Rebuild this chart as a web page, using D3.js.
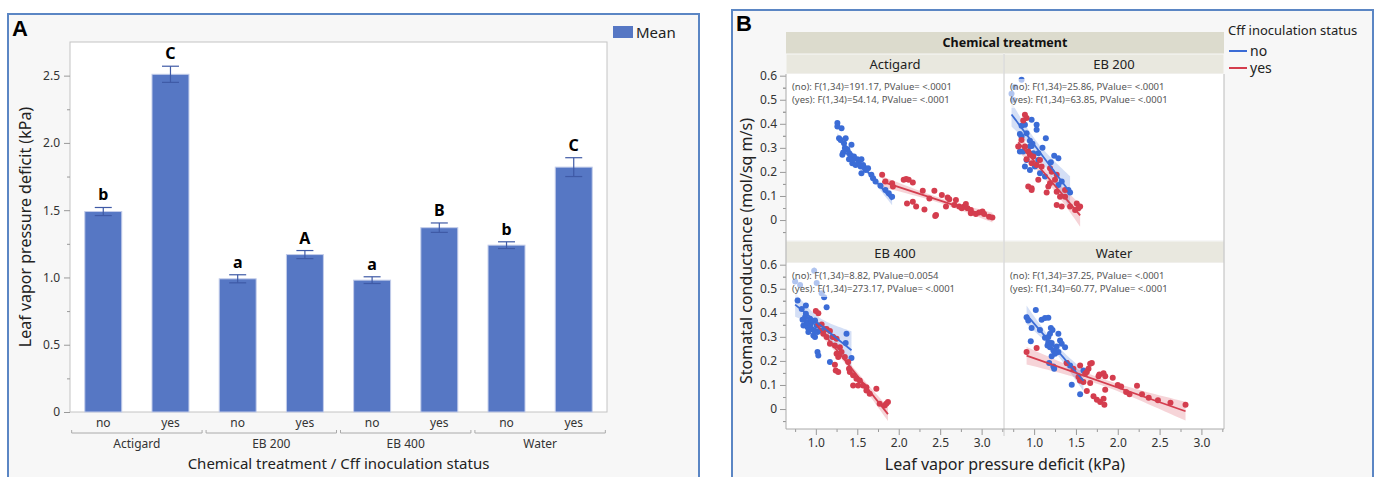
<!DOCTYPE html>
<html>
<head>
<meta charset="utf-8">
<script src="https://cdn.jsdelivr.net/npm/d3@7"></script>
<style>
body { margin: 0; background: #fff; }
svg text { font-family: "Noto Sans", sans-serif; }
</style>
</head>
<body>
<svg id="chart" width="1376" height="477"></svg>
<script>
// ---- panel A data
const treatments = ["Actigard", "EB 200", "EB 400", "Water"];
const inoculation = ["no", "yes"];
const meanVPD = [1.49, 2.51, 0.99, 1.17, 0.98, 1.37, 1.24, 1.82];
const errVPD = [0.03, 0.06, 0.03, 0.03, 0.025, 0.035, 0.025, 0.07];
const letters = ["b", "C", "a", "A", "a", "B", "b", "C"];
const vpdTicks = [0, 0.5, 1.0, 1.5, 2.0, 2.5];

// ---- panel B data: [leaf VPD, stomatal conductance]
const actigardNo = [[1.26,0.403],[1.26,0.389],[1.31,0.382],[1.28,0.340],[1.36,0.340],[1.43,0.313],[1.38,0.294],[1.33,0.281],[1.40,0.278],[1.42,0.264],[1.46,0.264],[1.50,0.253],[1.55,0.253],[1.40,0.253],[1.44,0.236],[1.48,0.229],[1.54,0.222],[1.58,0.219],[1.61,0.211],[1.60,0.208],[1.55,0.194],[1.67,0.188],[1.72,0.160],[1.78,0.142],[1.92,0.097],[1.30,0.333],[1.34,0.319],[1.35,0.299],[1.32,0.271],[1.44,0.250],[1.52,0.236],[1.57,0.229],[1.63,0.215],[1.69,0.174],[1.84,0.125],[1.88,0.111]];
const actigardYes = [[1.80,0.188],[1.92,0.153],[1.93,0.139],[2.06,0.167],[2.09,0.171],[2.12,0.167],[2.17,0.156],[2.29,0.122],[2.43,0.122],[2.52,0.104],[2.59,0.094],[2.61,0.086],[2.69,0.083],[2.37,0.090],[2.57,0.056],[2.73,0.056],[2.79,0.056],[2.81,0.067],[2.83,0.049],[2.76,0.049],[2.87,0.042],[2.87,0.028],[2.93,0.025],[3.01,0.035],[3.03,0.025],[3.09,0.014],[3.13,0.011],[2.10,0.069],[2.17,0.076],[2.21,0.056],[2.31,0.044],[2.45,0.021],[2.44,0.017],[1.84,0.160],[2.67,0.063],[2.97,0.031]];
const eb200No = [[0.85,0.392],[0.89,0.396],[0.97,0.417],[1.03,0.396],[1.03,0.375],[0.83,0.358],[0.91,0.361],[1.14,0.340],[0.95,0.306],[0.98,0.317],[0.83,0.285],[0.87,0.285],[0.99,0.278],[1.05,0.278],[1.24,0.267],[1.29,0.257],[0.91,0.250],[0.89,0.222],[0.95,0.208],[1.01,0.222],[1.07,0.194],[1.33,0.160],[1.29,0.146],[1.41,0.125],[1.43,0.114],[1.13,0.181],[0.97,0.308],[0.85,0.347],[0.85,0.583],[0.77,0.553],[0.73,0.525],[0.75,0.500],[1.10,0.300],[0.95,0.330],[1.20,0.240],[1.05,0.250]];
const eb200Yes = [[0.89,0.438],[0.91,0.424],[0.87,0.414],[0.85,0.333],[0.81,0.306],[0.89,0.306],[0.93,0.285],[0.95,0.271],[0.99,0.264],[0.91,0.253],[0.97,0.236],[1.03,0.229],[1.09,0.222],[1.07,0.250],[1.19,0.215],[1.21,0.201],[1.27,0.188],[1.25,0.167],[1.19,0.153],[1.17,0.139],[1.15,0.114],[1.05,0.167],[0.97,0.132],[0.93,0.139],[0.97,0.125],[1.27,0.118],[1.31,0.097],[1.37,0.097],[1.27,0.063],[1.33,0.056],[1.43,0.056],[1.51,0.069],[1.55,0.056],[1.49,0.042],[1.53,0.049],[1.37,0.125]];
const eb400No = [[0.75,0.530],[0.81,0.516],[0.98,0.575],[1.01,0.524],[1.07,0.481],[1.10,0.465],[0.78,0.451],[0.83,0.416],[0.88,0.430],[1.13,0.423],[0.87,0.382],[0.85,0.347],[0.90,0.340],[0.93,0.347],[0.95,0.333],[0.98,0.326],[0.91,0.320],[0.97,0.306],[1.02,0.320],[1.05,0.326],[0.89,0.361],[0.84,0.371],[0.88,0.396],[0.93,0.375],[0.99,0.368],[1.11,0.333],[1.37,0.313],[1.36,0.274],[1.43,0.212],[1.17,0.195],[1.02,0.237],[1.03,0.223],[1.01,0.347],[0.95,0.361],[0.99,0.299],[1.20,0.300]];
const eb400Yes = [[1.00,0.407],[1.03,0.398],[1.07,0.351],[1.13,0.333],[1.17,0.324],[1.21,0.299],[1.09,0.313],[1.13,0.299],[1.17,0.271],[1.23,0.264],[1.25,0.292],[1.29,0.257],[1.25,0.230],[1.27,0.216],[1.23,0.184],[1.24,0.160],[1.27,0.154],[1.31,0.237],[1.35,0.216],[1.39,0.195],[1.40,0.167],[1.41,0.154],[1.45,0.140],[1.49,0.126],[1.53,0.119],[1.45,0.098],[1.51,0.098],[1.57,0.098],[1.61,0.091],[1.61,0.077],[1.65,0.064],[1.73,0.084],[1.77,0.022],[1.83,0.015],[1.85,0.022],[1.87,0.029]];
const waterNo = [[1.02,0.412],[0.91,0.382],[0.93,0.368],[1.09,0.371],[1.13,0.378],[1.17,0.379],[0.97,0.337],[1.07,0.329],[1.20,0.337],[1.22,0.329],[1.19,0.313],[1.29,0.313],[0.96,0.282],[1.13,0.296],[1.17,0.299],[1.17,0.278],[1.21,0.274],[1.31,0.285],[1.33,0.271],[1.37,0.257],[1.27,0.260],[1.16,0.264],[1.19,0.257],[1.23,0.243],[1.29,0.237],[1.25,0.230],[1.21,0.219],[1.18,0.191],[1.23,0.177],[1.24,0.167],[1.39,0.191],[1.43,0.181],[1.45,0.101],[1.55,0.061],[1.55,0.119],[1.59,0.160]];
const waterYes = [[0.91,0.237],[1.03,0.254],[1.39,0.191],[1.55,0.181],[1.67,0.188],[1.69,0.191],[1.65,0.167],[1.61,0.147],[1.63,0.154],[1.55,0.119],[1.67,0.108],[1.63,0.075],[1.77,0.136],[1.78,0.144],[1.83,0.149],[1.85,0.136],[1.94,0.130],[1.85,0.080],[2.04,0.094],[2.10,0.071],[2.14,0.061],[2.23,0.097],[2.29,0.061],[2.37,0.047],[2.48,0.036],[2.63,0.026],[2.81,0.018],[1.71,0.053],[1.75,0.039],[1.79,0.029],[1.83,0.043],[1.84,0.018],[1.53,0.133],[1.59,0.112],[1.47,0.167],[2.00,0.100]];
const fStats = [
  ["(no): F(1,34)=191.17, PValue= <.0001", "(yes): F(1,34)=54.14, PValue= <.0001"],
  ["(no): F(1,34)=25.86, PValue= <.0001", "(yes): F(1,34)=63.85, PValue= <.0001"],
  ["(no): F(1,34)=8.82, PValue=0.0054", "(yes): F(1,34)=273.17, PValue= <.0001"],
  ["(no): F(1,34)=37.25, PValue= <.0001", "(yes): F(1,34)=60.77, PValue= <.0001"]
];
const scatterNo = [actigardNo, eb200No, eb400No, waterNo];
const scatterYes = [actigardYes, eb200Yes, eb400Yes, waterYes];
const gsTicks = [0, 0.1, 0.2, 0.3, 0.4, 0.5, 0.6];
const lvpdTicks = [1.0, 1.5, 2.0, 2.5, 3.0];

const blue = "#3b6cd6", red = "#d43d4e";
const svg = d3.select("#chart");

// ================= Panel A
svg.append("rect").attr("x", 8).attr("y", 14).attr("width", 691).attr("height", 480)
  .attr("fill", "#f7f7f7").attr("stroke", "#5b86c4").attr("stroke-width", 2);
svg.append("text").attr("x", 12).attr("y", 36).text("A")
  .style("font-family", "Liberation Sans, Arial").style("font-weight", "bold").style("font-size", "22px");

const aLeft = 70, aRight = 607, aTop = 42, aBottom = 412;
svg.append("rect").attr("x", aLeft).attr("y", aTop).attr("width", aRight - aLeft).attr("height", aBottom - aTop)
  .attr("fill", "#fff").attr("stroke", "#c4c4c4");

const keys = treatments.flatMap(t => inoculation.map(s => t + "|" + s));
const xA = d3.scaleBand().domain(keys).range([aLeft, aRight]).paddingInner(0.45).paddingOuter(0.22);
const yA = d3.scaleLinear().domain([0, 2.75]).range([aBottom, aTop]);

let ax = svg.append("g").attr("transform", "translate(" + aLeft + ",0)")
  .call(d3.axisLeft(yA).tickValues(d3.range(0.25, 2.6, 0.5)).tickSize(3).tickFormat(""));
ax.select(".domain").remove();
ax.selectAll("line").attr("stroke", "#999");
ax = svg.append("g").attr("transform", "translate(" + aLeft + ",0)")
  .call(d3.axisLeft(yA).tickValues(vpdTicks).tickSize(6).tickPadding(4)
    .tickFormat(d => d === 0 ? "0" : d3.format(".1f")(d)));
ax.select(".domain").remove();
ax.selectAll("line").attr("stroke", "#999");
ax.selectAll("text").attr("fill", "#333").style("font-size", "12px").style("font-family", "Noto Sans");

const bw = xA.bandwidth();
const barData = keys.map((k, i) => ({key: k, mean: meanVPD[i], err: errVPD[i], letter: letters[i]}));
svg.selectAll(".bar").data(barData).enter().append("rect")
  .attr("class", "bar")
  .attr("x", d => xA(d.key)).attr("width", bw)
  .attr("y", d => yA(d.mean)).attr("height", d => yA(0) - yA(d.mean))
  .attr("fill", "#5677c4").attr("stroke", "#c3cdea").attr("stroke-width", 1);

const eb = svg.selectAll(".err").data(barData).enter().append("g").attr("class", "err")
  .attr("stroke", "#3f5aa6").attr("stroke-width", 1.2);
eb.append("line").attr("x1", d => xA(d.key) + bw / 2).attr("x2", d => xA(d.key) + bw / 2)
  .attr("y1", d => yA(d.mean + d.err)).attr("y2", d => yA(d.mean - d.err));
eb.append("line").attr("x1", d => xA(d.key) + bw / 2 - 8.5).attr("x2", d => xA(d.key) + bw / 2 + 8.5)
  .attr("y1", d => yA(d.mean + d.err)).attr("y2", d => yA(d.mean + d.err));
eb.append("line").attr("x1", d => xA(d.key) + bw / 2 - 8.5).attr("x2", d => xA(d.key) + bw / 2 + 8.5)
  .attr("y1", d => yA(d.mean - d.err)).attr("y2", d => yA(d.mean - d.err));

svg.selectAll(".letter").data(barData).enter().append("text")
  .attr("x", d => xA(d.key) + bw / 2).attr("y", d => yA(d.mean + d.err) - 7)
  .attr("text-anchor", "middle").style("font-weight", "bold").style("font-size", "16px")
  .text(d => d.letter);

svg.selectAll(".xlab").data(barData).enter().append("text")
  .attr("x", d => xA(d.key) + bw / 2).attr("y", 427)
  .attr("text-anchor", "middle").attr("fill", "#333").style("font-size", "12px")
  .text(d => d.key.split("|")[1]);

const step = xA.step();
treatments.forEach(t => {
  const cx = (xA(t + "|no") + xA(t + "|yes") + bw) / 2;
  svg.append("path")
    .attr("d", "M" + (cx - step + 2) + ",430V433H" + (cx + step - 2) + "V430")
    .attr("fill", "none").attr("stroke", "#aaa");
  svg.append("text").attr("x", cx).attr("y", 448).attr("text-anchor", "middle")
    .attr("fill", "#333").style("font-size", "12px").text(t);
});

svg.append("text").attr("x", (aLeft + aRight) / 2).attr("y", 469).attr("text-anchor", "middle")
  .attr("fill", "#222").style("font-size", "15px").text("Chemical treatment / Cff inoculation status");
svg.append("text").attr("transform", "translate(31," + (aTop + aBottom) / 2 + ") rotate(-90)")
  .attr("text-anchor", "middle").attr("fill", "#222").style("font-size", "16px")
  .text("Leaf vapor pressure deficit (kPa)");

svg.append("rect").attr("x", 613).attr("y", 26).attr("width", 20).attr("height", 12).attr("fill", "#5677c4");
svg.append("text").attr("x", 636).attr("y", 38).attr("fill", "#222").style("font-size", "15px").text("Mean");

// ================= Panel B
svg.append("rect").attr("x", 732).attr("y", 10).attr("width", 641).attr("height", 480)
  .attr("fill", "#f7f7f7").attr("stroke", "#5b86c4").attr("stroke-width", 2);
svg.append("text").attr("x", 736).attr("y", 31).text("B")
  .style("font-family", "Liberation Sans, Arial").style("font-weight", "bold").style("font-size", "22px");

const colX = [[786, 1004], [1004, 1224]];
const rowY = [[74, 240], [263, 429]];
const headY = [54, 241];

svg.append("rect").attr("x", 786).attr("y", 32).attr("width", 438).attr("height", 22).attr("fill", "#dcdbcd");
svg.append("text").attr("x", 1005).attr("y", 47).attr("text-anchor", "middle")
  .style("font-weight", "bold").style("font-size", "12.5px").attr("fill", "#111").text("Chemical treatment");

function fit(pts) {
  const n = pts.length, mx = d3.mean(pts, d => d[0]), my = d3.mean(pts, d => d[1]);
  const sxx = d3.sum(pts, d => (d[0] - mx) ** 2), sxy = d3.sum(pts, d => (d[0] - mx) * (d[1] - my));
  const b = sxy / sxx, a = my - b * mx;
  const s = Math.sqrt(d3.sum(pts, d => (d[1] - a - b * d[0]) ** 2) / (n - 2));
  const x0 = d3.min(pts, d => d[0]), x1 = d3.max(pts, d => d[0]);
  const band = d3.range(0, 31).map(i => {
    const x = x0 + (x1 - x0) * i / 30;
    const h = 2.032 * s * Math.sqrt(1 / n + (x - mx) ** 2 / sxx);
    return {x: x, lo: a + b * x - h, hi: a + b * x + h};
  });
  return {a: a, b: b, x0: x0, x1: x1, band: band};
}

treatments.forEach((t, i) => {
  const col = i % 2, row = Math.floor(i / 2);
  const [x0, x1] = colX[col], [y0, y1] = rowY[row];
  const x = d3.scaleLinear().domain([0.64, 3.27]).range([x0, x1]);
  const y = d3.scaleLinear().domain([-0.083, 0.607]).range([y1, y0]);

  svg.append("rect").attr("x", x0).attr("y", headY[row]).attr("width", x1 - x0).attr("height", y0 - headY[row])
    .attr("fill", "#e9e8df").attr("stroke", "#f7f7f7").attr("stroke-width", 1);
  svg.append("text").attr("x", (x0 + x1) / 2).attr("y", y0 - 5).attr("text-anchor", "middle")
    .attr("fill", "#222").style("font-size", "13px").text(t);
  svg.append("rect").attr("x", x0).attr("y", y0).attr("width", x1 - x0).attr("height", y1 - y0).attr("fill", "#fff");

  const clipId = "clip" + i;
  svg.append("clipPath").attr("id", clipId).append("rect")
    .attr("x", x0).attr("y", y0).attr("width", x1 - x0).attr("height", y1 - y0);
  const g = svg.append("g").attr("clip-path", "url(#" + clipId + ")");

  const series = [{pts: scatterNo[i], c: blue}, {pts: scatterYes[i], c: red}];
  series.forEach(s => {
    s.f = fit(s.pts);
    g.append("path").datum(s.f.band)
      .attr("d", d3.area().x(d => x(d.x)).y0(d => y(d.lo)).y1(d => y(d.hi)))
      .attr("fill", s.c).attr("fill-opacity", 0.22);
  });
  series.forEach(s => {
    g.selectAll(null).data(s.pts).enter().append("circle")
      .attr("cx", d => x(d[0])).attr("cy", d => y(d[1])).attr("r", 3).attr("fill", s.c);
  });
  series.forEach(s => {
    g.append("line").attr("x1", x(s.f.x0)).attr("x2", x(s.f.x1))
      .attr("y1", y(s.f.a + s.f.b * s.f.x0)).attr("y2", y(s.f.a + s.f.b * s.f.x1))
      .attr("stroke", s.c).attr("stroke-width", 1.8);
  });

  // annotation with translucent backdrop
  g.append("rect").attr("x", x0 + 4).attr("y", y0 + 5).attr("width", 170).attr("height", 29)
    .attr("fill", "#fff").attr("fill-opacity", 0.6);
  fStats[i].forEach((txt, k) => {
    g.append("text").attr("x", x0 + 6).attr("y", y0 + 16 + k * 13)
      .attr("fill", "#555").style("font-size", "9.5px").text(txt);
  });

  // y axis
  let ya = svg.append("g").attr("transform", "translate(786,0)")
    .call(d3.axisLeft(y).tickValues(d3.range(-0.05, 0.6, 0.1)).tickSize(3).tickFormat(""));
  ya.select(".domain").remove();
  ya.selectAll("line").attr("stroke", "#999");
  if (col === 0) {
    ya = svg.append("g").attr("transform", "translate(786,0)")
      .call(d3.axisLeft(y).tickValues(gsTicks).tickSize(6).tickPadding(3)
        .tickFormat(d => d === 0 ? "0" : d3.format(".1f")(d)));
    ya.select(".domain").remove();
    ya.selectAll("line").attr("stroke", "#999");
    ya.selectAll("text").attr("fill", "#333").style("font-size", "12px").style("font-family", "Noto Sans");
  }

  if (row === 1) {
    let xa = svg.append("g").attr("transform", "translate(0," + y1 + ")")
      .call(d3.axisBottom(x).tickValues(d3.range(0.75, 3.3, 0.5)).tickSize(3).tickFormat(""));
    xa.select(".domain").remove();
    xa.selectAll("line").attr("stroke", "#999");
    xa = svg.append("g").attr("transform", "translate(0," + y1 + ")")
      .call(d3.axisBottom(x).tickValues(lvpdTicks).tickSize(6).tickPadding(3).tickFormat(d3.format(".1f")));
    xa.select(".domain").remove();
    xa.selectAll("line").attr("stroke", "#999");
    xa.selectAll("text").attr("fill", "#333").style("font-size", "12px").style("font-family", "Noto Sans");
  }
});

// frame lines
svg.append("line").attr("x1", 786).attr("x2", 786).attr("y1", 74).attr("y2", 429).attr("stroke", "#aaa");
svg.append("line").attr("x1", 1004).attr("x2", 1004).attr("y1", 54).attr("y2", 436).attr("stroke", "#ccc");
svg.append("line").attr("x1", 1224).attr("x2", 1224).attr("y1", 74).attr("y2", 429).attr("stroke", "#bbb");
svg.append("line").attr("x1", 786).attr("x2", 1224).attr("y1", 429).attr("y2", 429).attr("stroke", "#aaa");

svg.append("text").attr("x", 1005).attr("y", 470).attr("text-anchor", "middle")
  .attr("fill", "#222").style("font-size", "16px").text("Leaf vapor pressure deficit (kPa)");
svg.append("text").attr("transform", "translate(752,251) rotate(-90)")
  .attr("text-anchor", "middle").attr("fill", "#222").style("font-size", "16px")
  .text("Stomatal conductance (mol/sq m/s)");

// legend
svg.append("text").attr("x", 1228).attr("y", 35).attr("fill", "#222").style("font-size", "13px")
  .text("Cff inoculation status");
inoculation.forEach((s, k) => {
  svg.append("line").attr("x1", 1229).attr("x2", 1247).attr("y1", 51 + k * 17).attr("y2", 51 + k * 17)
    .attr("stroke", k === 0 ? blue : red).attr("stroke-width", 2);
  svg.append("text").attr("x", 1250).attr("y", 56 + k * 17).attr("fill", "#222").style("font-size", "14px").text(s);
});
</script>
</body>
</html>
